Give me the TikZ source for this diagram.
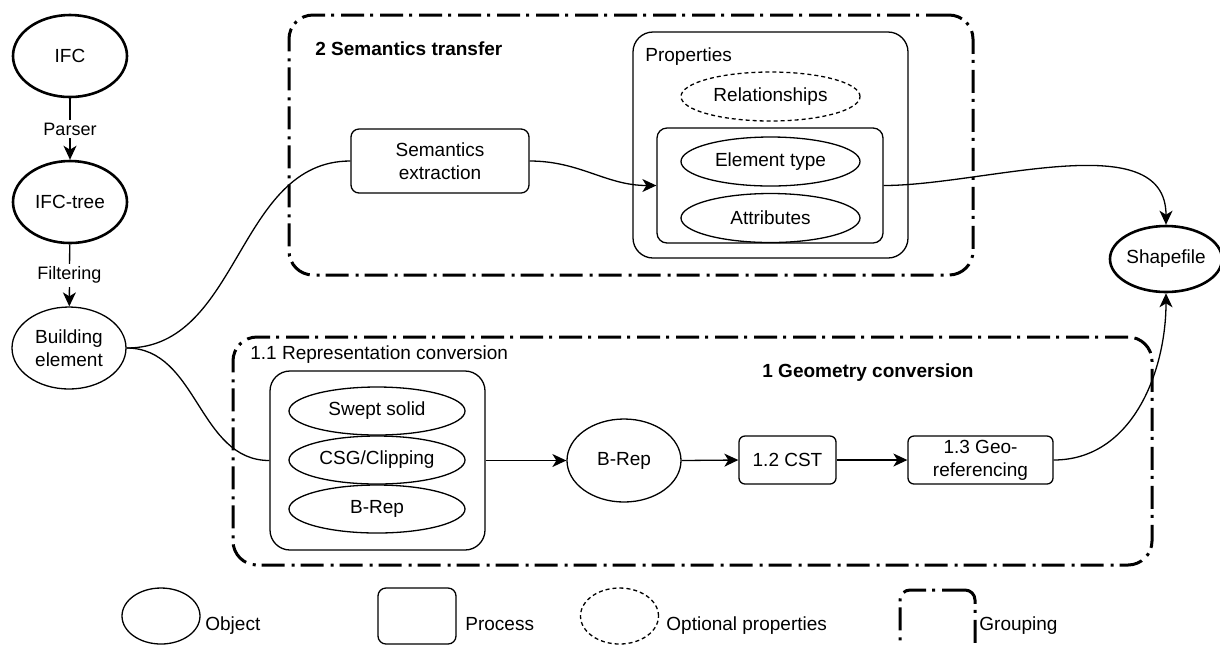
\documentclass[tikz,border=0pt]{standalone}
\usepackage{fontspec}
\setmainfont{Liberation Sans}
\usetikzlibrary{shapes.geometric,arrows.meta}
\begin{document}
\begin{tikzpicture}[x=0.5pt,y=-0.5pt,
  font=\fontsize{9.5}{11.5}\selectfont,
  obj/.style={ellipse,draw,line width=0.65pt,inner sep=0pt,align=center},
  objthick/.style={obj,line width=1.3pt},
  proc/.style={rectangle,rounded corners=4pt,draw,line width=0.65pt,inner sep=0pt,align=center},
  grp/.style={rectangle,rounded corners=12pt,draw,line width=1.5pt,dash pattern=on 11.5pt off 3.5pt on 1.5pt off 3pt,inner sep=0pt},
  opt/.style={obj,dash pattern=on 2pt off 1.5pt},
  arr/.style={line width=0.65pt,-{Stealth[length=7pt,width=6.5pt,inset=2pt]}},
  ln/.style={line width=0.65pt},
  lbl/.style={fill=white,inner sep=1.5pt,font=\fontsize{9}{10.5}\selectfont},
  txt/.style={inner sep=0pt,anchor=west},
  btxt/.style={inner sep=0pt,anchor=base west}]
\fill[white] (0,0) rectangle (1220,645);
\useasboundingbox (0,0) rectangle (1220,645);
\clip (0,0) rectangle (1220,645);

% groups
\node[grp,minimum width=342pt,minimum height=130pt] (g2) at (631,145) {};
\node[grp,minimum width=459.5pt,minimum height=114pt] (g1) at (692.5,451) {};
\node[txt,font=\fontsize{9.5}{11.5}\selectfont\bfseries] (g2t) at (315,49) {2 Semantics transfer};
\node[font=\fontsize{9.5}{11.5}\selectfont\bfseries,inner sep=0pt] (g1t) at (868,373) {1 Geometry conversion};
\node[txt] (g11t) at (250,355) {1.1 Representation conversion};

% left chain
\node[objthick,minimum width=57pt,minimum height=41pt] (ifc) at (70,56) {IFC};
\node[objthick,minimum width=57pt,minimum height=41pt] (tree) at (70,202) {IFC-tree};
\node[obj,minimum width=57pt,minimum height=41pt] (be) at (69,348) {Building\\element};
\node[objthick,minimum width=55pt,minimum height=33pt] (shp) at (1166,259) {Shapefile};

% semantics
\node[proc,minimum width=89pt,minimum height=32pt] (se) at (440,161) {Semantics\\extraction};
\node[proc,rounded corners=10pt,minimum width=137.5pt,minimum height=113pt] (prop) at (770.5,145) {};
\node[txt] (propt) at (645,57) {Properties};
\node[opt,minimum width=89.5pt,minimum height=24.5pt] (rel) at (770.5,96.5) {Relationships};
\node[proc,rounded corners=5pt,minimum width=113pt,minimum height=57.5pt] (inner) at (770,185.5) {};
\node[obj,minimum width=89.5pt,minimum height=24.5pt] (et) at (770.5,161.5) {Element type};
\node[obj,minimum width=89.5pt,minimum height=24.5pt] (att) at (770.5,218) {Attributes};

% geometry
\node[proc,rounded corners=10pt,minimum width=107.5pt,minimum height=89.5pt] (rep) at (377.5,460.5) {};
\node[obj,minimum width=88pt,minimum height=24pt] (sw) at (377,411) {Swept solid};
\node[obj,minimum width=88pt,minimum height=24pt] (csg) at (377,460) {CSG/Clipping};
\node[obj,minimum width=88pt,minimum height=24pt] (br1) at (377,509) {B-Rep};
\node[obj,minimum width=57pt,minimum height=41.5pt] (br2) at (624,460.5) {B-Rep};
\node[proc,rounded corners=3pt,minimum width=48.5pt,minimum height=24pt] (cst) at (787.5,460) {1.2 CST};
\node[proc,rounded corners=3pt,minimum width=72.5pt,minimum height=24pt] (geo) at (980.5,460) {1.3 Geo-\\referencing};

% connectors
\draw[arr] (ifc) -- node[lbl] {Parser} (tree);
\draw[arr] (tree) -- node[lbl] {Filtering} (be);
\draw[ln] (be.east) to[out=0,in=180] (se.west);
\draw[ln] (be.east) to[out=0,in=180] (rep.west);
\draw[arr] (se.east) to[out=0,in=180] (inner.west);
\draw[arr] (inner.east) to[out=0,in=90,looseness=0.9] (shp.north);
\draw[arr] (rep.east) -- (br2.west);
\draw[arr] (br2.east) -- (cst.west);
\draw[arr] (cst.east) -- (geo.west);
\draw[arr] (geo.east) to[out=0,in=-90] (shp.south);

% legend
\node[obj,minimum width=39pt,minimum height=28pt] (lo) at (161,616) {};
\node[btxt] (lot) at (205,630) {Object};
\node[proc,minimum width=39pt,minimum height=28pt] (lp) at (417,616) {};
\node[btxt] (lpt) at (465,630) {Process};
\node[opt,minimum width=39pt,minimum height=28pt] (lop) at (619.5,616) {};
\node[btxt] (lopt) at (666,630) {Optional properties};
\node[grp,rounded corners=5pt,minimum width=37.5pt,minimum height=40pt] (lg) at (937.5,630) {};
\node[btxt] (lgt) at (979,630) {Grouping};
\end{tikzpicture}
\end{document}
